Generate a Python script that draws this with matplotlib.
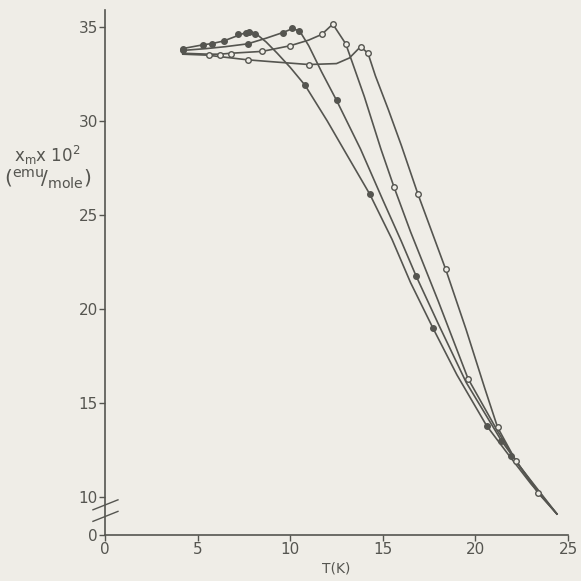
import matplotlib.pyplot as plt
from matplotlib.lines import Line2D

# susceptibility curves, chi_m x 10^2 (emu/mole) against T (K)
# paths
t_a = [4.2, 5.3, 5.8, 6.4, 7.2, 7.6, 7.9, 8.2, 8.7, 9.3, 10.0, 10.8, 12.0, 13.0, 14.3, 15.5, 16.5, 17.7, 19.0, 20.6, 21.9, 23.0, 24.4]
x_a = [33.85, 34.05, 34.12, 34.25, 34.55, 34.7, 34.75, 34.6, 34.2, 33.6, 32.85, 31.9, 30.0, 28.3, 26.1, 23.7, 21.4, 19.0, 16.5, 13.8, 12.1, 10.7, 9.1]

t_b = [4.2, 5.5, 6.5, 7.7, 8.7, 9.6, 10.1, 10.5, 11.0, 11.7, 12.5, 13.8, 15.0, 16.0, 16.8, 18.0, 19.5, 21.4, 22.5, 24.4]
x_b = [33.75, 33.85, 33.95, 34.1, 34.4, 34.7, 34.9, 34.8, 34.0, 32.6, 31.1, 28.5, 25.8, 23.6, 21.75, 19.2, 16.1, 13.0, 11.5, 9.1]

t_c = [4.2, 5.6, 6.2, 6.8, 8.5, 10.0, 11.0, 11.7, 12.3, 13.0, 14.0, 14.9, 15.6, 16.5, 18.0, 19.6, 21.2, 22.2, 23.4, 24.4]
x_c = [33.6, 33.55, 33.55, 33.6, 33.7, 34.0, 34.3, 34.6, 35.15, 34.1, 31.3, 28.5, 26.5, 24.1, 20.4, 16.3, 13.5, 11.9, 10.3, 9.1]

t_d = [4.2, 5.5, 7.7, 9.0, 11.0, 12.5, 13.2, 13.8, 14.2, 14.6, 15.3, 16.0, 16.9, 18.4, 19.5, 20.5, 21.2, 22.2, 23.4, 24.4]
x_d = [33.55, 33.5, 33.25, 33.15, 33.0, 33.05, 33.35, 33.95, 33.6, 32.4, 30.6, 28.7, 26.1, 22.1, 18.9, 15.8, 13.7, 11.9, 10.2, 9.1]

# measured points (filled for a, b; open for c, d)
pt_a = [4.2, 5.3, 5.8, 6.4, 7.2, 7.6, 7.8, 8.1, 10.8, 14.3, 17.7, 20.6, 21.9]
px_a = [33.85, 34.05, 34.1, 34.25, 34.6, 34.7, 34.75, 34.6, 31.9, 26.1, 19.0, 13.8, 12.2]
pt_b = [4.2, 7.7, 9.6, 10.1, 10.5, 12.5, 16.8, 21.4]
px_b = [33.75, 34.1, 34.7, 34.95, 34.8, 31.1, 21.75, 13.0]
pt_c = [5.6, 6.2, 6.8, 8.5, 10.0, 11.7, 12.3, 13.0, 15.6, 19.6, 22.2]
px_c = [33.5, 33.5, 33.55, 33.7, 34.0, 34.6, 35.15, 34.1, 26.5, 16.3, 11.9]
pt_d = [7.7, 11.0, 13.8, 14.2, 16.9, 18.4, 21.2, 23.4]
px_d = [33.25, 33.0, 33.95, 33.6, 26.1, 22.1, 13.7, 10.2]

y_zero = 7.98  # where the broken axis puts 0
ytick_vals = [y_zero, 10, 15, 20, 25, 30, 35]
ytick_labels = ['0', '10', '15', '20', '25', '30', '35']
xtick_vals = [0, 5, 10, 15, 20, 25]

bg = '#efede7'
ink = '#555550'

fig = plt.figure(figsize=(5.81, 5.81), dpi=100, facecolor=bg)
ax = fig.add_axes([105 / 581, 46 / 581, 463 / 581, 525 / 581], facecolor=bg)

for t, x in [(t_a, x_a), (t_b, x_b), (t_c, x_c), (t_d, x_d)]:
    ax.plot(t, x, color=ink, lw=1.2, solid_joinstyle='round')

for t, x in [(pt_a, px_a), (pt_b, px_b)]:
    ax.plot(t, x, 'o', ms=4, color=ink, mec=ink)
for t, x in [(pt_c, px_c), (pt_d, px_d)]:
    ax.plot(t, x, 'o', ms=4, mfc=bg, mec=ink, mew=1.0)

ax.set_xlim(0, 25)
ax.set_ylim(y_zero, 35.9)
ax.set_xticks(xtick_vals)
ax.set_yticks(ytick_vals)
ax.set_yticklabels(ytick_labels)
for s in ['top', 'right']:
    ax.spines[s].set_visible(False)
for s in ['left', 'bottom']:
    ax.spines[s].set_color(ink)
    ax.spines[s].set_linewidth(1.2)
ax.tick_params(colors=ink, labelcolor=ink, labelsize=11, length=4, width=1, pad=1)

# axis break marks between 0 and 10
for dy in (0.0, -0.022):
    ax.add_line(Line2D([-0.026, 0.028], [0.048 + dy, 0.067 + dy], transform=ax.transAxes,
                       color=ink, lw=1.0, clip_on=False))

fig.text(14 / 581, 1 - 155 / 581, r'x$_{\rm m}$x 10$^2$', color=ink, fontsize=12, va='center')
fig.text(4 / 581, 1 - 179 / 581, r'($^{\rm emu}\!/_{\rm mole}$)', color=ink, fontsize=14.5, va='center')
ax.set_xlabel('T(K)', color=ink, fontsize=10, labelpad=3)

fig.savefig('out.png', dpi=100, facecolor=bg)
